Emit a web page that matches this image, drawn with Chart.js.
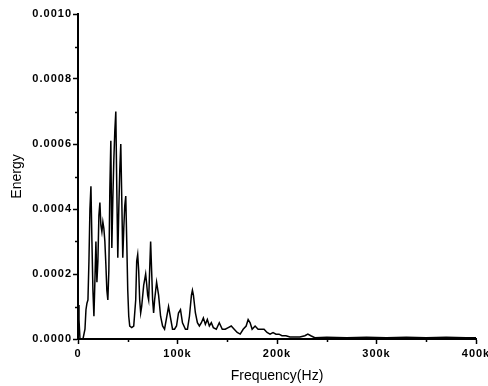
<!DOCTYPE html>
<html>
<head>
<meta charset="utf-8">
<script src="https://cdn.jsdelivr.net/npm/chart.js@4/dist/chart.umd.min.js"></script>
<style>
html,body{margin:0;padding:0;background:#fff;}
canvas{display:block;}
</style>
</head>
<body>
<canvas id="c" width="488" height="386"></canvas>
<script>
// Frequency in kHz
const freq = [0,1,2,5,7,8,9,10,11,12,13,14,15,16,17,18,19,20,21,22,23,24,25,26,27,28,29,30,31,32,33,34,35,36,37,38,39,40,41,42,43,44,45,46,47,48,49,50,51,52,54,56,58,59,60,61,62,63,64,66,68,69,70,71,72,73,74,75,76,77,79,81,83,85,87,89,91,93,95,97,99,101,103,105,108,110,112,114,115,116,118,120,122,124,126,128,130,132,134,136,139,142,145,148,151,154,157,160,163,166,169,171,173,175,178,181,184,187,190,193,196,199,202,205,209,213,218,223,228,231,234,238,250,270,290,310,330,350,370,390,400];
const energy = [0.000105,0.00006,0,0,0.00003,0.00009,0.00011,0.00012,0.00024,0.0004,0.00047,0.0003,0.00015,0.00007,0.00018,0.0003,0.000175,0.00024,0.00038,0.00042,0.00035,0.00033,0.00036,0.00034,0.0003,0.00023,0.00015,0.00012,0.00021,0.00046,0.00061,0.00028,0.00043,0.00055,0.00064,0.0007,0.00046,0.00025,0.0004,0.00052,0.0006,0.00043,0.00025,0.00034,0.00041,0.00044,0.0003,0.00015,0.00007,0.00004,0.000035,0.00004,0.00012,0.00024,0.00026,0.00021,0.00012,0.00008,0.0001,0.000165,0.0002,0.00017,0.000135,0.00012,0.00021,0.0003,0.00021,0.00012,0.00008,0.00012,0.000175,0.000135,0.00007,0.00004,0.00003,0.000065,0.0001,0.000065,0.00003,0.00003,0.00004,0.00008,0.00009,0.00005,0.00003,0.00003,0.00007,0.000135,0.00015,0.000135,0.00008,0.00005,0.00004,0.00005,0.000065,0.000045,0.00006,0.00004,0.00005,0.000035,0.00003,0.00005,0.00003,0.00003,0.000035,0.00004,0.00003,0.00002,0.000015,0.00003,0.00004,0.00006,0.00005,0.00003,0.00004,0.00003,0.00003,0.00003,0.00002,0.000015,0.00002,0.000015,0.000015,0.00001,0.00001,0.000006,0.000006,0.000006,0.00001,0.000015,0.00001,0.000004,0.000005,0.000004,0.000005,0.000004,0.000005,0.000004,0.000005,0.000004,0.000004];
const xTicks = [0,100,200,300,400];
const xMinor = [50,150,250,350];
const yTicks = [0,0.0002,0.0004,0.0006,0.0008,0.0010];
const yMinor = [0.0001,0.0003,0.0005,0.0007,0.0009];

const spacing = {
  id: 'spacing',
  beforeLayout(chart) { chart.ctx.letterSpacing = '1px'; },
  beforeDraw(chart) {
    chart.ctx.letterSpacing = '1px';
    ['x', 'y'].forEach(id => {
      const s = chart.scales[id];
      if (!s._wrappedTitle) {
        const orig = s.drawTitle.bind(s);
        s.drawTitle = function () {
          chart.ctx.letterSpacing = '0px';
          orig();
          chart.ctx.letterSpacing = '1px';
        };
        s._wrappedTitle = true;
      }
    });
  }
};

const minorTicks = {
  id: 'minorTicks',
  afterDraw(chart) {
    const ctx = chart.ctx;
    const xs = chart.scales.x, ys = chart.scales.y;
    ctx.save();
    ctx.strokeStyle = '#000';
    ctx.lineWidth = 1.5;
    ctx.beginPath();
    xMinor.forEach(v => {
      const px = Math.round(xs.getPixelForValue(v)) + 0.5;
      ctx.moveTo(px, ys.bottom);
      ctx.lineTo(px, ys.bottom + 3);
    });
    yMinor.forEach(v => {
      const py = Math.round(ys.getPixelForValue(v)) + 0.5;
      ctx.moveTo(xs.left, py);
      ctx.lineTo(xs.left - 3, py);
    });
    ctx.stroke();
    ctx.restore();
  }
};

new Chart(document.getElementById('c'), {
  type: 'line',
  data: {
    datasets: [{
      data: freq.map((f, i) => ({x: f, y: energy[i]})),
      borderColor: '#000',
      borderWidth: 1.5,
      pointRadius: 0,
      tension: 0,
      fill: false
    }]
  },
  options: {
    responsive: false,
    animation: false,
    devicePixelRatio: 1,
    layout: {padding: {top: 14, right: 12, left: 0, bottom: 0}},
    plugins: {legend: {display: false}, tooltip: {enabled: false}},
    scales: {
      x: {
        type: 'linear',
        min: 0, max: 400,
        afterBuildTicks(s) { s.ticks = xTicks.map(v => ({value: v})); },
        afterFit(s) { s.height = 47; s.paddingRight = 0; s.paddingLeft = 0; },
        ticks: {
          color: '#000',
          font: {family: 'Liberation Sans, Arial, sans-serif', size: 11, weight: 'bold'},
          padding: 3,
          maxRotation: 0,
          callback: v => v === 0 ? '0' : v + 'k'
        },
        grid: {drawOnChartArea: false, tickLength: 5, color: '#000', tickWidth: 1.5},
        border: {color: '#000', width: 2},
        title: {
          display: true,
          text: 'Frequency(Hz)',
          color: '#000',
          font: {family: 'Liberation Sans, Arial, sans-serif', size: 14},
          padding: {top: 0, bottom: 1}
        }
      },
      y: {
        min: 0, max: 0.001,
        afterBuildTicks(s) { s.ticks = yTicks.map(v => ({value: v})); },
        afterFit(s) { s.width = 78; s.paddingTop = 0; s.paddingBottom = 0; },
        ticks: {
          color: '#000',
          font: {family: 'Liberation Sans, Arial, sans-serif', size: 11, weight: 'bold'},
          padding: 1,
          callback: v => v.toFixed(4)
        },
        grid: {drawOnChartArea: false, tickLength: 5, color: '#000', tickWidth: 1.5},
        border: {color: '#000', width: 2},
        title: {
          display: true,
          text: 'Energy',
          color: '#000',
          font: {family: 'Liberation Sans, Arial, sans-serif', size: 14},
          padding: {top: 9, bottom: 0}
        }
      }
    }
  },
  plugins: [spacing, minorTicks]
});
</script>
</body>
</html>
